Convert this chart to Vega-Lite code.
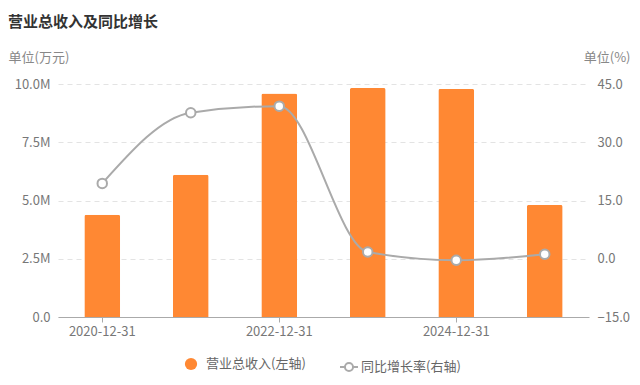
{
  "$schema": "https://vega.github.io/schema/vega-lite/v6.json",
  "width": 531,
  "height": 233,
  "autosize": {"type": "none"},
  "padding": {"left": 58, "top": 84, "right": 51, "bottom": 68},
  "background": "white",
  "title": {
    "text": "营业总收入及同比增长",
    "anchor": "start",
    "frame": "group",
    "dx": -50,
    "fontSize": 15,
    "fontWeight": "bold",
    "color": "#333333",
    "font": "Noto Sans CJK SC",
    "offset": 21
  },
  "config": {
    "font": "Noto Sans CJK SC",
    "view": {"stroke": null},
    "axis": {"labelFont": "Noto Sans CJK SC", "titleFont": "Noto Sans CJK SC", "labelFontSize": 13, "labelColor": "#777777", "titleColor": "#888888", "titleFontSize": 13, "titleFontWeight": "normal"},
    "legend": {"labelFont": "Noto Sans CJK SC", "labelFontSize": 13, "labelColor": "#666666"}
  },
  "data": {
    "values": [
      {"date": "2020-12-31", "revenue": 4390000, "growth": 19.4, "s1": "营业总收入(左轴)", "s2": "同比增长率(右轴)"},
      {"date": "2021-12-31", "revenue": 6110000, "growth": 37.6, "s1": "营业总收入(左轴)", "s2": "同比增长率(右轴)"},
      {"date": "2022-12-31", "revenue": 9590000, "growth": 39.3, "s1": "营业总收入(左轴)", "s2": "同比增长率(右轴)"},
      {"date": "2023-12-31", "revenue": 9830000, "growth": 1.75, "s1": "营业总收入(左轴)", "s2": "同比增长率(右轴)"},
      {"date": "2024-12-31", "revenue": 9790000, "growth": -0.4, "s1": "营业总收入(左轴)", "s2": "同比增长率(右轴)"},
      {"date": "2025-06-30", "revenue": 4810000, "growth": 1.16, "s1": "营业总收入(左轴)", "s2": "同比增长率(右轴)"}
    ]
  },
  "encoding": {
    "x": {
      "field": "date",
      "type": "nominal",
      "sort": null,
      "scale": {"paddingInner": 0.595, "paddingOuter": 0.2975},
      "axis": {
        "title": null,
        "values": ["2020-12-31", "2022-12-31", "2024-12-31"],
        "labelAngle": 0,
        "domainColor": "#aaaaaa",
        "tickColor": "#aaaaaa",
        "tickSize": 5,
        "labelPadding": 3,
        "grid": false
      }
    }
  },
  "layer": [
    {
      "mark": {"type": "bar", "cornerRadiusTopLeft": 2, "cornerRadiusTopRight": 2},
      "encoding": {
        "y": {
          "field": "revenue",
          "type": "quantitative",
          "scale": {"domain": [0, 10000000], "nice": false},
          "axis": {
            "title": "单位(万元)",
            "titleAngle": 0,
            "titleX": -50,
            "titleY": -27,
            "titleAlign": "left",
            "titleBaseline": "middle",
            "values": [0, 2500000, 5000000, 7500000, 10000000],
            "labelExpr": "datum.value == 0 ? '0.0' : format(datum.value / 1000000, '.1f') + 'M'",
            "domain": false,
            "ticks": false,
            "labelPadding": 8,
            "grid": true,
            "gridColor": "#e3e3e3",
            "gridDash": [5, 4]
          }
        },
        "color": {
          "field": "s1",
          "type": "nominal",
          "scale": {"range": ["#ff8833"]},
          "legend": {
            "title": null,
            "orient": "none",
            "legendX": 126,
            "legendY": 273,
            "symbolType": "circle",
            "symbolSize": 150,
            "padding": 0,
            "labelOffset": 8
          }
        }
      }
    },
    {
      "encoding": {
        "y": {
          "field": "growth",
          "type": "quantitative",
          "scale": {"domain": [-15, 45], "nice": false},
          "axis": {
            "orient": "right",
            "title": "单位(%)",
            "titleAngle": 0,
            "titleX": 41,
            "titleY": -27,
            "titleAlign": "right",
            "titleBaseline": "middle",
            "values": [-15, 0, 15, 30, 45],
            "format": ".1f",
            "domain": false,
            "ticks": false,
            "labelPadding": 8,
            "grid": false
          }
        }
      },
      "layer": [
        {
          "mark": {"type": "line", "interpolate": "monotone", "strokeWidth": 2},
          "encoding": {
            "stroke": {
              "field": "s2",
              "type": "nominal",
              "scale": {"range": ["#aaaaaa"]},
              "legend": {
                "title": null,
                "orient": "none",
                "legendX": 281,
                "legendY": 273,
                "symbolType": "M-1,0L-0.45,0M0.45,0L1,0M0.45,0A0.45,0.45,0,1,1,-0.45,0A0.45,0.45,0,1,1,0.45,0",
                "symbolSize": 324,
                "symbolStrokeWidth": 2,
                "symbolFillColor": "white",
                "padding": 0,
                "labelOffset": 2
              }
            }
          }
        },
        {
          "mark": {"type": "point", "filled": true, "fill": "white", "stroke": "#aaaaaa", "strokeWidth": 2, "size": 90, "opacity": 1},
          "encoding": {}
        }
      ]
    }
  ],
  "resolve": {"scale": {"y": "independent"}}
}
